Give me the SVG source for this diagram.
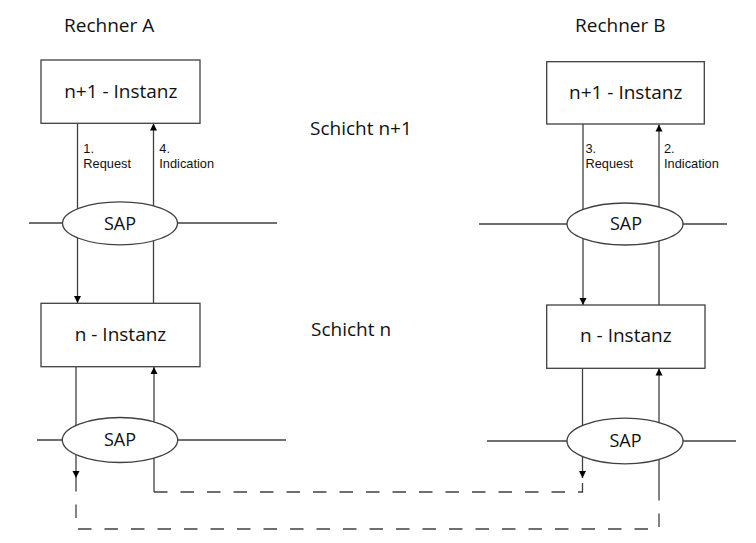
<svg xmlns="http://www.w3.org/2000/svg" width="756" height="543" viewBox="0 0 756 543">
<defs>
<marker id="ah" viewBox="0 0 10 10" refX="10" refY="5" markerWidth="7" markerHeight="11" markerUnits="userSpaceOnUse" orient="auto">
<path d="M0,0 L10,5 L0,10 Z" fill="#000"/>
</marker>
<style>
text{font-family:"Open Sans","Liberation Sans",sans-serif;fill:#111}
.t{font-size:19px}
.b{font-size:19px;text-anchor:middle}
.s{font-size:18px;text-anchor:middle}
.l{font-family:"Liberation Sans",Arial,sans-serif;font-size:12.8px}
.box{fill:#fff;stroke:#404040;stroke-width:1.3}
.sap{fill:#fff;stroke:#404040;stroke-width:1.3}
.ln{fill:none;stroke:#404040;stroke-width:1.3}
.ar{fill:none;stroke:#404040;stroke-width:1.3;marker-end:url(#ah)}
.da{fill:none;stroke:#404040;stroke-width:1.3;stroke-dasharray:13.5 13}
</style>
</defs>
<rect width="756" height="543" fill="#fff"/>
<g id="labels">
<text class="t" x="64" y="31.5">Rechner A</text>
<text class="t" x="575" y="31.5">Rechner B</text>
<text class="t" x="310" y="135">Schicht n+1</text>
<text class="t" x="311" y="336">Schicht n</text>
</g>
<g id="connectors">
<line class="ln" x1="29" y1="223" x2="277" y2="223"/>
<line class="ln" x1="37" y1="440" x2="286" y2="440"/>
<line class="ln" x1="479" y1="224" x2="727" y2="224"/>
<line class="ln" x1="487" y1="441" x2="736" y2="441"/>
<line class="ar" x1="77.5" y1="123" x2="77.5" y2="303"/>
<line class="ar" x1="153.5" y1="303" x2="153.5" y2="123.5"/>
<line class="ar" x1="583" y1="124" x2="583" y2="305"/>
<line class="ar" x1="659" y1="305" x2="659" y2="124.5"/>
<line class="ar" x1="76" y1="367" x2="76" y2="478"/>
<line class="ar" x1="154" y1="492" x2="154" y2="367"/>
<line class="ar" x1="582.5" y1="368" x2="582.5" y2="478"/>
<line class="ar" x1="659" y1="490" x2="659" y2="368.5"/>
<path class="da" d="M76,478 V529 H659 V490"/>
<path class="da" d="M154,492 H582.5 V478"/>
<text class="l" x="83.3" y="152.5">1.</text>
<text class="l" x="83.3" y="168">Request</text>
<text class="l" x="159.3" y="152.5">4.</text>
<text class="l" x="159.3" y="168">Indication</text>
<text class="l" x="585.5" y="152.5">3.</text>
<text class="l" x="585.5" y="168">Request</text>
<text class="l" x="664" y="152.5">2.</text>
<text class="l" x="664" y="168">Indication</text>
</g>
<g id="a-n1">
<rect class="box" x="41" y="60" width="159" height="63.3"/>
<text class="b" x="120.8" y="98.3">n+1 - Instanz</text>
</g>
<g id="a-sap1">
<ellipse class="sap" cx="120" cy="223.3" rx="57.5" ry="21.5"/>
<text class="s" x="120" y="230">SAP</text>
</g>
<g id="a-n">
<rect class="box" x="41" y="303.3" width="159" height="63.4"/>
<text class="b" x="120.5" y="340.7">n - Instanz</text>
</g>
<g id="a-sap">
<ellipse class="sap" cx="120" cy="440" rx="57.7" ry="22.5"/>
<text class="s" x="120" y="445.7">SAP</text>
</g>
<g id="b-n1">
<rect class="box" x="546.7" y="61.7" width="157.6" height="62.3"/>
<text class="b" x="625.7" y="98.8">n+1 - Instanz</text>
</g>
<g id="b-sap1">
<ellipse class="sap" cx="625" cy="224" rx="58" ry="21"/>
<text class="s" x="626" y="230">SAP</text>
</g>
<g id="b-n">
<rect class="box" x="546.7" y="305" width="158.3" height="63.3"/>
<text class="b" x="625.8" y="341.7">n - Instanz</text>
</g>
<g id="b-sap">
<ellipse class="sap" cx="625" cy="441" rx="58" ry="22.8"/>
<text class="s" x="625.5" y="446.7">SAP</text>
</g>
</svg>
